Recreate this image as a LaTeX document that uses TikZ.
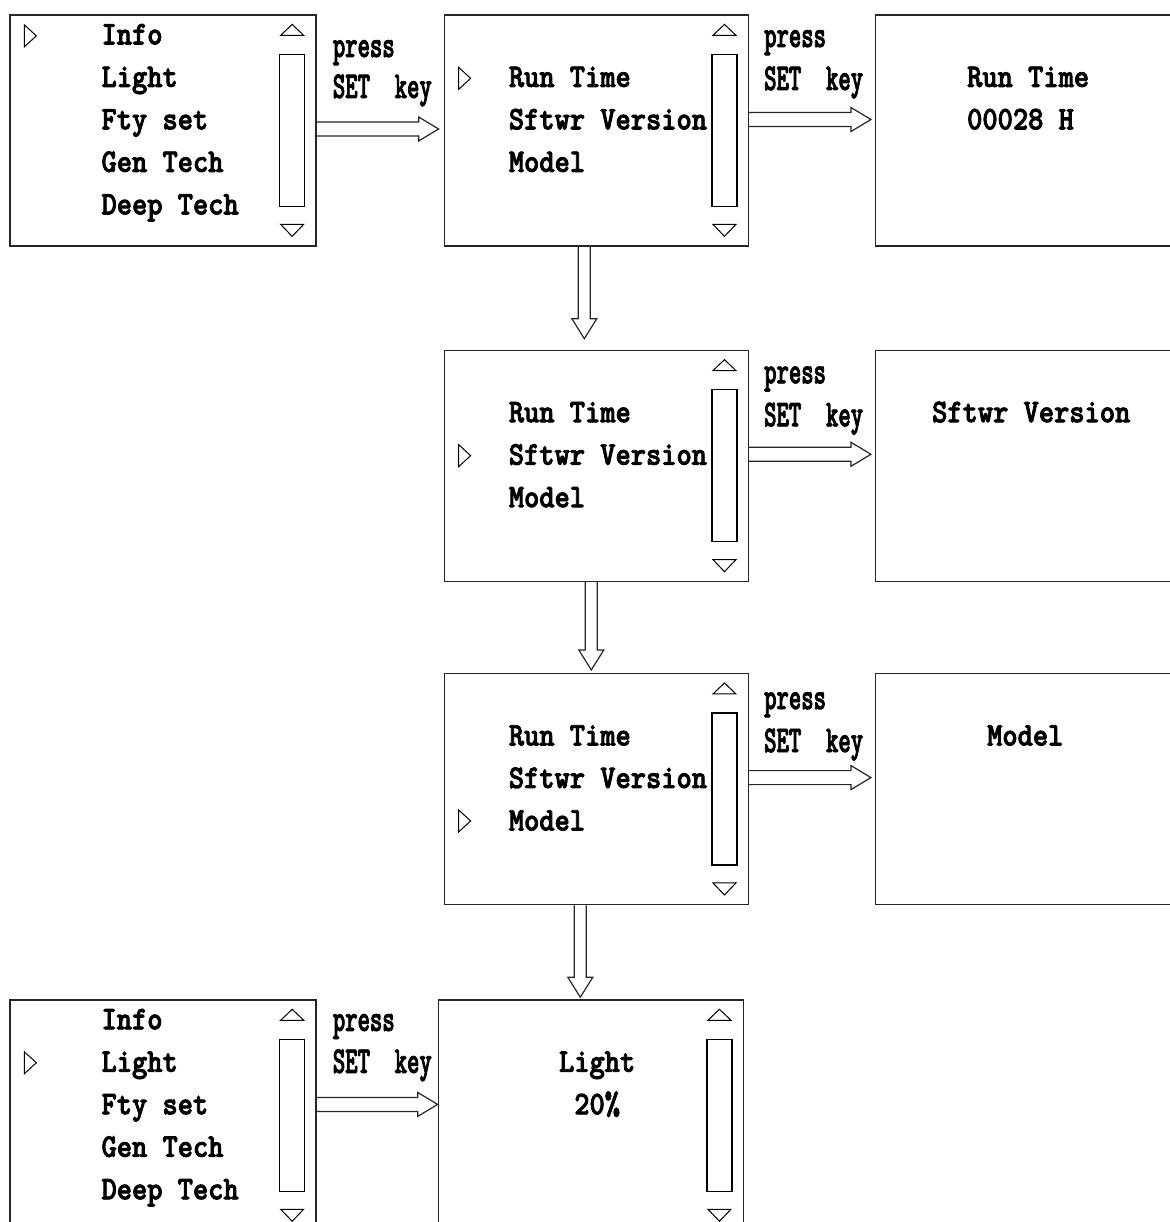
\documentclass[tikz,border=0pt]{standalone}
\usepackage{fontspec}
\newfontfamily\lcdfont[FakeStretch=0.88, FakeBold=2.5]{lmmonolt10-bold.otf}
\newfontfamily\keyfont[FakeStretch=0.62, FakeBold=2]{lmmonolt10-bold.otf}
\usetikzlibrary{positioning, calc}

% scroll bar at the right side of a screen
\newcommand{\drawscroll}[1]{%
  \draw[line width=1.1pt] ([shift={(-37,40)}]#1.north east) rectangle ([shift={(-12,192)}]#1.north east);
  \draw[line width=1pt] ([shift={(-24.5,10)}]#1.north east) -- ([shift={(-13,21)}]#1.north east) -- ([shift={(-36,21)}]#1.north east) -- cycle;
  \draw[line width=1pt] ([shift={(-36,210)}]#1.north east) -- ([shift={(-13,210)}]#1.north east) -- ([shift={(-24.5,222)}]#1.north east) -- cycle;
}
% cursor in front of the selected row
\newcommand{\drawmark}[2]{%
  \draw[line width=1pt] ([shift={(15,#2-11)}]#1.north west) -- ([shift={(27,#2)}]#1.north west) -- ([shift={(15,#2+11)}]#1.north west) -- cycle;
}

\begin{document}
\begin{tikzpicture}[
    x=1pt, y=-1pt,
    screen/.style={draw=black!85, line width=1.3pt, minimum height=231pt, inner sep=0pt},
    menutext/.style={font=\lcdfont\fontsize{33}{42}\selectfont, anchor=base west, inner sep=0pt},
    keytext/.style={font=\keyfont\fontsize{38}{42}\selectfont, anchor=base west, inner sep=0pt},
    rarrow/.style={draw=black!85, line width=1.2pt, to path={let \p1=(\tikztostart), \p2=(\tikztotarget) in
        (\x1,\y1+7pt) -- (\x2-20pt,\y1+7pt) -- (\x2-20pt,\y1+12pt) -- (\x2,\y1)
        -- (\x2-20pt,\y1-12pt) -- (\x2-20pt,\y1-7pt) -- (\x1,\y1-7pt)}},
    darrow/.style={draw=black!85, line width=1.2pt, to path={let \p1=(\tikztostart), \p2=(\tikztotarget) in
        (\x1-6pt,\y1) -- (\x1-6pt,\y2+20pt) -- (\x1-12.5pt,\y2+20pt) -- (\x1,\y2)
        -- (\x1+12.5pt,\y2+20pt) -- (\x1+6pt,\y2+20pt) -- (\x1+6pt,\y1)}}
]
    \useasboundingbox (0,0) rectangle (1169,1222);
    \fill[white] (0,0) rectangle (1169,1222);

    % screens
    \node[screen, minimum width=306pt] (a) at (163,130.5) {};
    \node[screen, minimum width=304pt, right=127pt of a] (b) {};
    \node[screen, minimum width=304pt, right=126pt of b] (c) {};
    \node[screen, minimum width=304pt, below=103pt of b] (d) {};
    \node[screen, minimum width=304pt, right=126pt of d] (e) {};
    \node[screen, minimum width=304pt, below=91pt of d] (f) {};
    \node[screen, minimum width=304pt, right=126pt of f] (g) {};
    \node[screen, minimum width=305pt, below=94pt of f, xshift=-5.5pt] (h) {};
    \node[screen, minimum width=306pt, left=121pt of h] (i) {};

    \drawscroll{a} \drawscroll{b} \drawscroll{d} \drawscroll{f} \drawscroll{h} \drawscroll{i}

    % main menu
    \drawmark{a}{21.5}
    \node[menutext] (a1) at ([shift={(92,30)}]a.north west) {Info};
    \node[menutext] (a2) at ([shift={(92,72.5)}]a.north west) {Light};
    \node[menutext] (a3) at ([shift={(92,115)}]a.north west) {Fty set};
    \node[menutext] (a4) at ([shift={(92,157.5)}]a.north west) {Gen Tech};
    \node[menutext] (a5) at ([shift={(92,200)}]a.north west) {Deep Tech};

    % info menu
    \drawmark{b}{64}
    \node[menutext] (b1) at ([shift={(65,72.5)}]b.north west) {Run Time};
    \node[menutext] (b2) at ([shift={(65,115)}]b.north west) {Sftwr Version};
    \node[menutext] (b3) at ([shift={(65,157.5)}]b.north west) {Model};
    \node[menutext] (c1) at ([shift={(92,72.5)}]c.north west) {Run Time};
    \node[menutext] (c2) at ([shift={(92,115)}]c.north west) {00028 H};

    \drawmark{d}{106}
    \node[menutext] (d1) at ([shift={(65,72.5)}]d.north west) {Run Time};
    \node[menutext] (d2) at ([shift={(65,115)}]d.north west) {Sftwr Version};
    \node[menutext] (d3) at ([shift={(65,157.5)}]d.north west) {Model};
    \node[menutext] (e1) at ([shift={(57,72.5)}]e.north west) {Sftwr Version};

    \drawmark{f}{148}
    \node[menutext] (f1) at ([shift={(65,72.5)}]f.north west) {Run Time};
    \node[menutext] (f2) at ([shift={(65,115)}]f.north west) {Sftwr Version};
    \node[menutext] (f3) at ([shift={(65,157.5)}]f.north west) {Model};
    \node[menutext] (g1) at ([shift={(112,72.5)}]g.north west) {Model};

    % light menu
    \drawmark{i}{63.5}
    \node[menutext] (i1) at ([shift={(92,30)}]i.north west) {Info};
    \node[menutext] (i2) at ([shift={(92,72.5)}]i.north west) {Light};
    \node[menutext] (i3) at ([shift={(92,115)}]i.north west) {Fty set};
    \node[menutext] (i4) at ([shift={(92,157.5)}]i.north west) {Gen Tech};
    \node[menutext] (i5) at ([shift={(92,200)}]i.north west) {Deep Tech};
    \node[menutext, anchor=base] (h1) at ([shift={(159.5,72.5)}]h.north west) {Light};
    \node[menutext, anchor=base] (h2) at ([shift={(159.5,115)}]h.north west) {20\%};

    % transitions
    \draw[rarrow] ([yshift=1.5pt]a.east) to ([xshift=-5pt]b.west);
    \draw[rarrow] ([yshift=11pt]b.east) to ([xshift=-4pt]c.west);
    \draw[rarrow] ([yshift=11.5pt]d.east) to ([xshift=-4pt]e.west);
    \draw[rarrow] ([yshift=11.5pt]f.east) to ([xshift=-4pt]g.west);
    \draw[rarrow] ([yshift=11pt]i.east) to (h.west);
    \draw[darrow] ([xshift=-12pt]b.south) to ([yshift=11pt]d.north);
    \draw[darrow] ([xshift=-5pt]d.south) to ([yshift=3pt]f.north);
    \draw[darrow] ([xshift=-16pt]f.south) to ([yshift=2pt]h.north);

    \node[keytext] (p1) at ([shift={(16,-73.5)}]a.east) {press};
    \node[keytext] (s1) at ([shift={(16,-32.5)}]a.east) {SET~~key};
    \node[keytext] (p2) at ([shift={(15,-83.5)}]b.east) {press};
    \node[keytext] (s2) at ([shift={(15,-40.5)}]b.east) {SET~~key};
    \node[keytext] (p3) at ([shift={(15,-82.5)}]d.east) {press};
    \node[keytext] (s3) at ([shift={(15,-39.5)}]d.east) {SET~~key};
    \node[keytext] (p4) at ([shift={(15,-80)}]f.east) {press};
    \node[keytext] (s4) at ([shift={(15,-37)}]f.east) {SET~~key};
    \node[keytext] (p5) at ([shift={(16,-84.5)}]i.east) {press};
    \node[keytext] (s5) at ([shift={(16,-42.5)}]i.east) {SET~~key};
\end{tikzpicture}
\end{document}
